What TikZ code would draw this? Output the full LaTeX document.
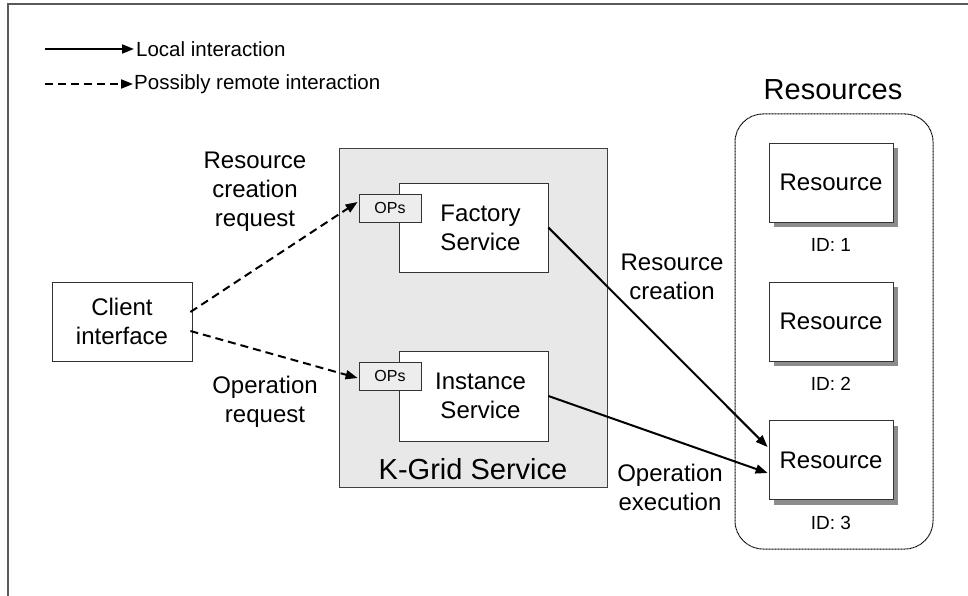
\documentclass[tikz,border=0pt]{standalone}
\usepackage{fontspec}
\setmainfont{Liberation Sans}
\usetikzlibrary{arrows.meta,calc,shadows}
\begin{document}
\begin{tikzpicture}[x=1pt,y=-1pt,
  lbl/.style={align=center,font=\fontsize{24}{29}\selectfont,inner sep=0pt},
  big/.style={align=center,font=\fontsize{29}{34}\selectfont,inner sep=0pt},
  leg/.style={anchor=west,font=\fontsize{20.5}{24}\selectfont,inner sep=0pt},
  idl/.style={font=\fontsize{19}{22}\selectfont,inner sep=0pt},
  box/.style={draw=black!80,line width=0.8pt,fill=white,inner sep=0pt,align=center,
    font=\fontsize{24}{29}\selectfont},
  opsbox/.style={draw=black!80,line width=0.8pt,fill=black!7,inner sep=0pt,
    minimum width=62,minimum height=28,font=\fontsize{16}{18}\selectfont},
  resbox/.style={box,minimum width=124,minimum height=79,
    drop shadow={shadow xshift=5pt,shadow yshift=-5pt,fill=black!45,opacity=1}},
  conn/.style={line width=2pt,-{Triangle[length=12pt,width=9pt]}},
  dconn/.style={conn,dash pattern=on 8pt off 5pt}]
\useasboundingbox (0,0) rectangle (968,596);

% frame (cropped)
\coordinate (ftr) at (968,4);
\coordinate (ftl) at (8,4);
\coordinate (fbl) at (8,596);
\draw[black!65,line width=1.5pt] (ftr) -- (ftl) -- (fbl);

% legend
\coordinate (la) at (45,49);
\coordinate (lb) at (45,84);
\node[leg] (lt1) at (136,49) {Local interaction};
\node[leg] (lt2) at (134,84) {Possibly remote interaction};
\draw[conn] (la) -- ($(lt1.west)+(-2,0)$);
\draw[dconn] (lb) -- ($(lt2.west)+(-1,0)$);

% client
\node[box,minimum width=140,minimum height=79] (client) at (122,321.5) {Client\\interface};

% K-Grid service
\node[draw=black!75,line width=0.8pt,fill=black!9,minimum width=268,minimum height=339,inner sep=0pt] (kgrid) at (473,317.5) {};
\node[big] (kgt) at (473,469) {K-Grid Service};
\node[box,minimum width=149,minimum height=89] (fact) at (473.5,227.5) {\hspace*{14pt}Factory\\\hspace*{14pt}Service};
\node[box,minimum width=149,minimum height=90] (inst) at (473.5,396) {\hspace*{14pt}Instance\\\hspace*{14pt}Service};
\node[opsbox] (ops1) at (390,208) {OPs};
\node[opsbox] (ops2) at (390,376) {OPs};

% resources
\node[draw=black,line width=1pt,dash pattern=on 1pt off 0.5pt,rounded corners=28pt,
  minimum width=198,minimum height=435,inner sep=0pt] (resarea) at (834,331.5) {};
\node[big] (restitle) at (833,90) {Resources};
\node[resbox] (r1) at (831,182.5) {Resource};
\node[resbox] (r2) at (831,321.5) {Resource};
\node[resbox] (r3) at (831,460) {Resource};
\node[idl] (id1) at (831,245) {ID: 1};
\node[idl] (id2) at (831,384) {ID: 2};
\node[idl] (id3) at (831,523) {ID: 3};

% labels
\node[lbl] (l1) at (255,192) {Resource\\creation\\request};
\node[lbl] (l2) at (265,402) {Operation\\request};
\node[lbl] (l3) at (672,277) {Resource\\creation};
\node[lbl] (l4) at (670,487) {Operation\\execution};

% connectors
\draw[dconn] ($(client.east)+(-2,-9.5)$) -- ($(ops1.west)+(-1,-6)$);
\draw[dconn] ($(client.east)+(-2,9.5)$) -- ($(ops2.west)+(-1,2)$);
\draw[conn] (fact.east) -- ($(r3.west)+(-1,-13)$);
\draw[conn] (inst.east) -- ($(r3.west)+(-1,13)$);
\end{tikzpicture}
\end{document}
